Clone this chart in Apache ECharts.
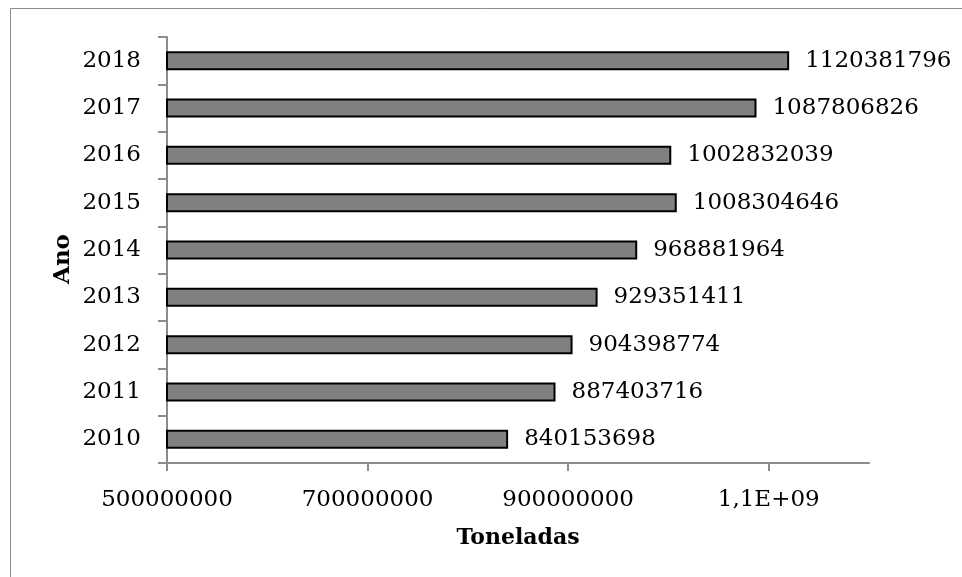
<!DOCTYPE html>
<html>
<head>
<meta charset="utf-8">
<script src="https://cdn.jsdelivr.net/npm/echarts@6/dist/echarts.min.js"></script>
<style>
  html, body { margin: 0; padding: 0; background: #fff; }
  #chart { width: 962px; height: 577px; }
</style>
</head>
<body>
<div id="chart"></div>
<script>
// Annual tonnage, 2010–2018
const years = ['2010', '2011', '2012', '2013', '2014', '2015', '2016', '2017', '2018'];
const tonnes = [840153698, 887403716, 904398774, 929351411, 968881964, 1008304646, 1002832039, 1087806826, 1120381796];
const xTicks = [500000000, 700000000, 900000000, 1100000000];
const xTickText = ['500000000', '700000000', '900000000', '1,1E+09'];

const serif = '"DejaVu Serif", "Liberation Serif", serif';
const axisGray = '#8c8c8c';

const chart = echarts.init(document.getElementById('chart'));
chart.setOption({
  animation: false,
  backgroundColor: '#fff',
  grid: { left: 167, right: 93, top: 37, bottom: 114, containLabel: false },
  graphic: [{
    type: 'rect',
    shape: { x: 10.5, y: 8.5, width: 1000, height: 1000 },
    style: { fill: 'none', stroke: axisGray, lineWidth: 1 },
    silent: true
  }, {
    type: 'text',
    x: 63, y: 259,
    rotation: Math.PI / 2,
    style: {
      text: 'Ano', font: 'bold 23px ' + serif, fill: '#000',
      align: 'center', verticalAlign: 'middle'
    },
    silent: true
  }],
  xAxis: {
    type: 'value',
    min: 500000000,
    max: 1200000000,
    interval: 200000000,
    name: 'Toneladas',
    nameLocation: 'middle',
    nameGap: 64,
    nameTextStyle: { fontFamily: serif, fontSize: 22, fontWeight: 'bold', color: '#000' },
    splitLine: { show: false },
    axisLine: { show: true, lineStyle: { color: axisGray, width: 2 } },
    axisTick: { show: true, length: 8, customValues: xTicks, lineStyle: { color: axisGray, width: 2 } },
    axisLabel: {
      customValues: xTicks,
      margin: 26,
      fontFamily: serif, fontSize: 23, color: '#000',
      formatter: v => xTickText[xTicks.indexOf(v)] ?? ''
    }
  },
  yAxis: {
    type: 'category',
    data: years,
    axisLine: { show: true, lineStyle: { color: axisGray, width: 2 } },
    axisTick: { show: true, length: 9, lineStyle: { color: axisGray, width: 2 } },
    axisLabel: { margin: 26, fontFamily: serif, fontSize: 23, color: '#000' },
    splitLine: { show: false }
  },
  series: [{
    type: 'bar',
    data: tonnes,
    barWidth: 19,
    itemStyle: { color: '#808080', borderColor: '#000', borderWidth: 2 },
    label: {
      show: true,
      position: 'right',
      distance: 16,
      fontFamily: serif, fontSize: 23, color: '#000'
    }
  }]
});
</script>
</body>
</html>
